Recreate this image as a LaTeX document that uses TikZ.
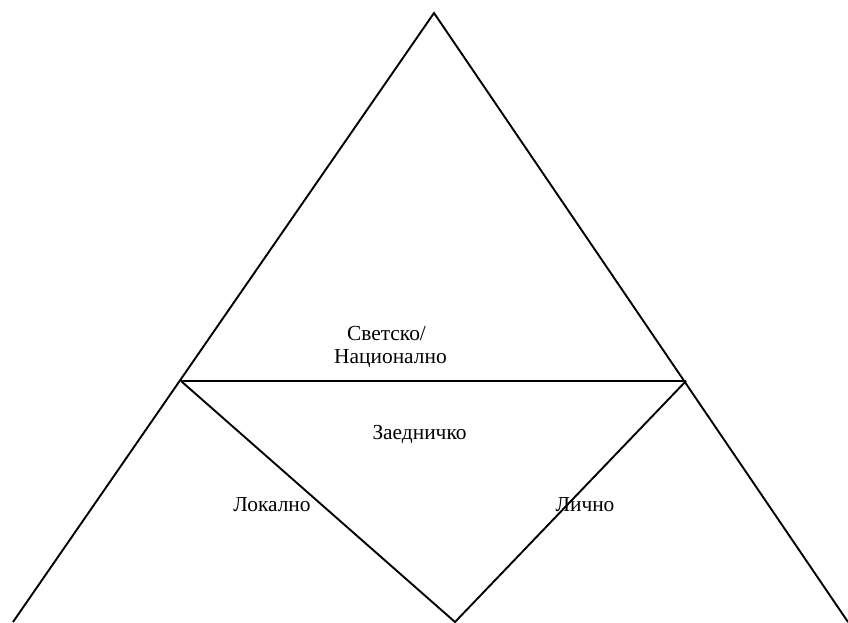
\documentclass[tikz,border=0pt]{standalone}
\usepackage{fontspec}
\setmainfont{Liberation Serif}
\begin{document}
\begin{tikzpicture}[x=1pt,y=-1pt,
  edge/.style={draw=black,line width=1.9pt},
  lbl/.style={font=\fontsize{21.4}{25}\selectfont,inner sep=0pt,anchor=center}]
\useasboundingbox (0,0) rectangle (848,622);
\coordinate (apex) at (434,13);
\coordinate (bl) at (13,622);
\coordinate (br) at (848,622);
\coordinate (ml) at (181,381);
\coordinate (mr) at (686,381);
\coordinate (vb) at (455,622);
\draw[edge] (bl) -- (apex) -- (br);
\draw[edge] (ml) -- (mr);
\draw[edge] (ml) -- (vb) -- (mr);
\node[lbl] (t1) at (386.5,334) {Светско/};
\node[lbl] (t2) at (390.5,359) {Национално};
\node[lbl] (t3) at (419.5,434) {Заедничко};
\node[lbl] (t4) at (272,505) {Локално};
\node[lbl] (t5) at (585,505) {Лично};
\end{tikzpicture}
\end{document}
